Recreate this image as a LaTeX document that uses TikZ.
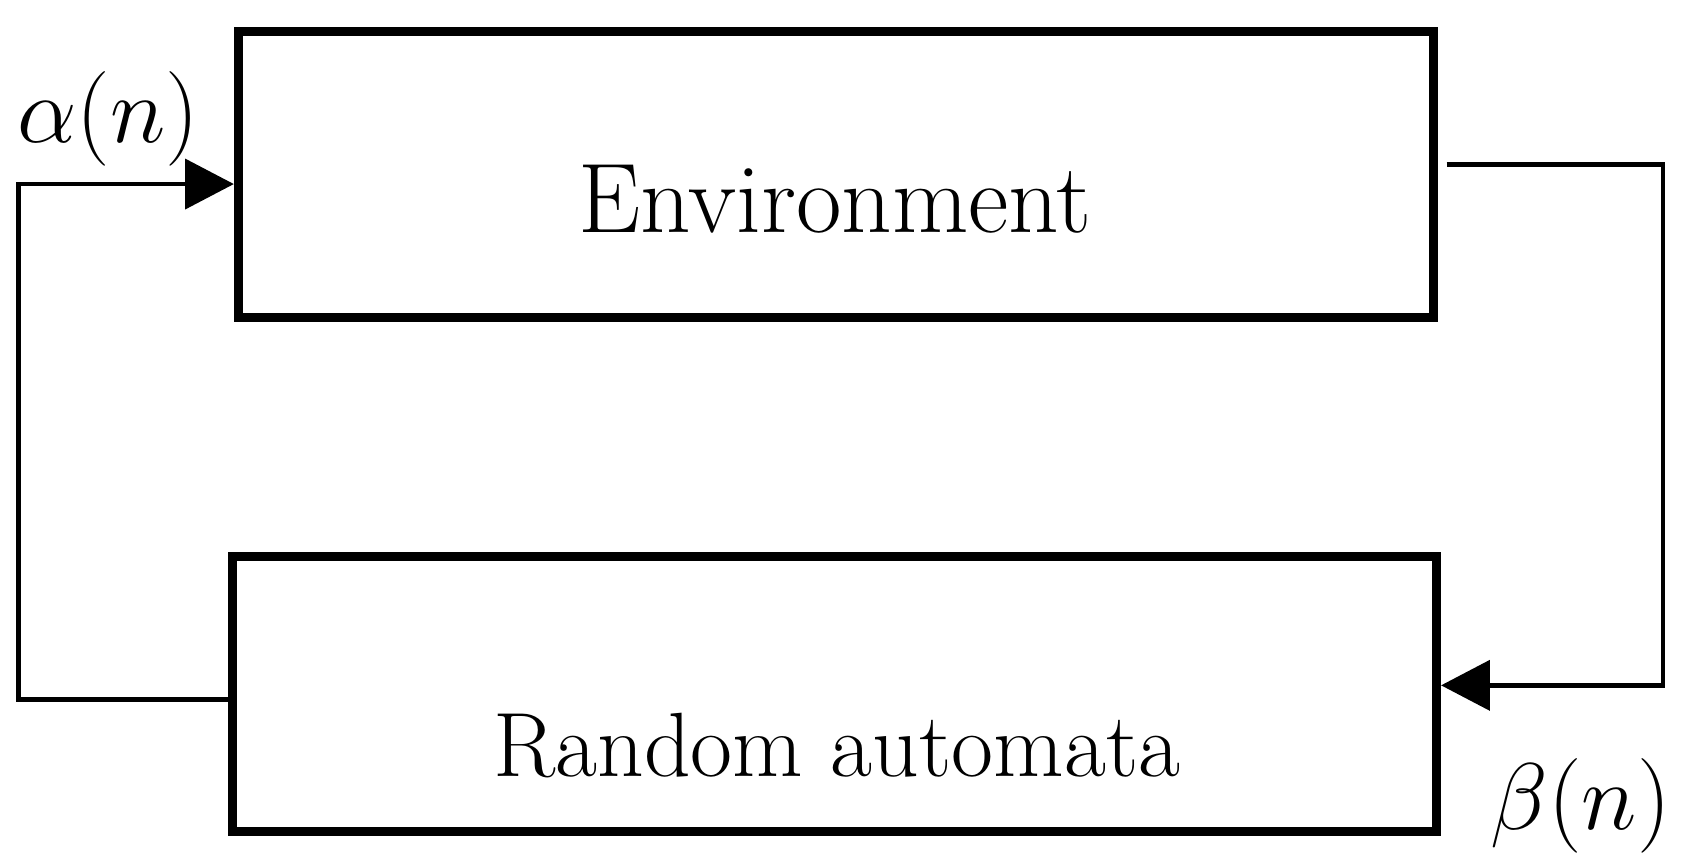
\documentclass[tikz,border=0pt]{standalone}
\usepackage{amssymb,amsmath}
\usepackage{tikz}
\usetikzlibrary{arrows.meta}

\begin{document}
\begin{tikzpicture}
\useasboundingbox (0,0) rectangle (15.6,7.94);
\begin{scope}[every node/.style={rectangle,draw,line width=0.08cm,inner sep=0pt}]
    \node (env) [minimum width=11.04cm,minimum height=2.64cm] at (7.72,6.33) {};
    \node (ra) [minimum width=11.12cm,minimum height=2.54cm] at (7.71,1.53) {};
\end{scope}

\begin{scope}[every node/.style={inner sep=0pt,font=\fontsize{23.5}{28}\selectfont}]
    \node (envtxt) [font=\fontsize{26}{31}\selectfont] at (7.71,6.10) {Environment};
    \node (ratxt) [font=\fontsize{24}{29}\selectfont] at (7.73,1.05) {Random automata};
    \node (alpha) at (1.00,6.84) {$\alpha(n)$};
    \node (beta) at (14.60,0.50) {$\beta(n)$};
\end{scope}

\coordinate (a1) at (0.17,1.48);
\coordinate (a2) at (0.17,6.24);
\coordinate (b1) at (15.36,6.42);
\coordinate (b2) at (15.36,1.61);

\begin{scope}[every path/.style={draw=black,line width=0.04cm,-{Triangle[length=0.45cm,width=0.46cm]}}]
    \path (ra.west |- a1) -- (a1) -- (a2) -- (env.west |- a2);
    \path ([xshift=0.08cm]env.east |- b1) -- (b1) -- (b2) -- (ra.east |- b2);
\end{scope}
\end{tikzpicture}
\end{document}
